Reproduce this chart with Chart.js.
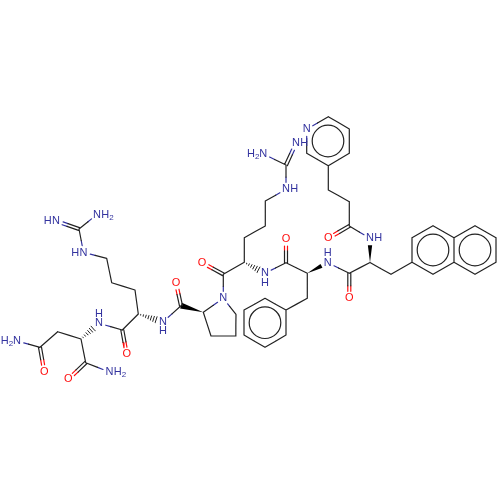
<!DOCTYPE html>
<html>
<head>
<meta charset="utf-8">
<script src="https://cdn.jsdelivr.net/npm/chart.js@4/dist/chart.umd.min.js"></script>
<style>
html, body { margin: 0; padding: 0; background: #fff; }
#wrap { width: 500px; height: 500px; }
</style>
</head>
<body>
<div id="wrap"><canvas id="mol" width="500" height="500"></canvas></div>
<script>
// atom positions
var atoms = [
    [97,214.5],[56,221],[79,229],[83.5,252.5],[106.7,258.3],[111.7,282.7],[135,290],[138.3,314],
    [99,323.3],[122.3,330],[126.7,354.3],[81,339],[57.7,331.7],[40,347.3],[44.3,371.7],[17,341],
    [85.7,362.7],[68.3,379.3],[109.5,372],[163,322],[181,305.7],[176,282.7],[203.3,312.3],[211,336],
    [235.7,336],[236,314.3],[223.3,298.3],[223.3,274.3],[202,262.7],[244.3,262.3],[244.3,237.7],[265.3,226],
    [265.3,201],[286,189.3],[286,165],[263.3,154],[296,143.3],[265,273.3],[286,262.7],[286,239],
    [307.3,273.3],[307.3,298.3],[286,310],[286,335],[265,347.3],[244,335],[244,310],[265,298.3],
    [327.7,262.7],[349.3,273.3],[349.3,298.3],[370,262.5],[370,238.3],[391,274.3],[412,262.3],[412,237.7],
    [433,225.7],[454,237.7],[454,262.3],[433,274.3],[475,225.7],[496,237.7],[496,262.3],[475,274.3],
    [349.3,226],[328.3,238.3],[349.3,201.7],[328.3,190],[328.3,165.7],[349.3,153.3],[349.3,129],[328.3,116.7],
    [306.7,129.3],[306.7,153.3]
];
var singleBonds = [
    [2,0],[2,3],[3,4],[4,5],[5,6],[6,7],[7,9],[9,8],[11,12],[12,13],[13,15],[11,16],[16,18],
    [19,20],[22,23],[23,24],[24,25],[25,26],[26,22],[26,27],[27,29],[29,30],[30,31],[31,32],[32,33],
    [33,34],[34,35],[37,38],[38,40],[40,41],[41,42],[42,43],[43,44],[44,45],[45,46],[46,47],[47,42],
    [48,49],[49,51],[51,53],[53,54],[54,55],[55,56],[56,57],[57,58],[58,59],[59,54],[57,60],[60,61],
    [61,62],[62,63],[63,58],[52,64],[64,66],[66,67],[67,68],[68,69],[69,70],[70,71],[71,72],[72,73],[73,68]
];
var doubleBonds = [[2,1],[9,10],[13,14],[16,17],[20,21],[27,28],[34,36],[38,39],[49,50],[64,65]];
var wedgeBonds = [[22,20],[40,48],[51,52]];
var hashBonds = [[11,8],[7,19],[29,37]];
var ringCentres = [[265,322.7],[433,250],[475,250],[328,141]];
var nitrogens = [0,1,3,8,15,18,19,26,33,35,36,37,48,52,72];
var oxygens = [10,14,17,21,28,39,50,65];
// [atom, text shape]
var atomLabels = [
    [0,'NH2'],[1,'HN'],[3,'HN'],[8,'NH^'],[15,'H2N'],[18,'NH2'],[19,'NHv'],[26,'N'],[33,'NH'],[35,'H2N'],
    [36,'NH'],[37,'NHv'],[48,'NH^'],[52,'NH'],[72,'N'],
    [10,'O'],[14,'O'],[17,'O'],[21,'O'],[28,'O'],[39,'O'],[50,'O'],[65,'O']
];

var carbonColor = '#222222', nitrogenColor = '#33339f', oxygenColor = '#ff0d0d';
var gap = 7, dblOffset = 1.5;

function colorOf(i) {
    if (nitrogens.indexOf(i) >= 0) return nitrogenColor;
    if (oxygens.indexOf(i) >= 0) return oxygenColor;
    return carbonColor;
}
function labelled(i) {
    return nitrogens.indexOf(i) >= 0 || oxygens.indexOf(i) >= 0;
}

var segs = {};
segs[carbonColor] = []; segs[nitrogenColor] = []; segs[oxygenColor] = [];

function addSeg(color, x1, y1, x2, y2) {
    segs[color].push({x: x1, y: y1}, {x: x2, y: y2}, {x: NaN, y: NaN});
}
function addBond(a, b, off) {
    var p = atoms[a], q = atoms[b];
    var dx = q[0] - p[0], dy = q[1] - p[1], len = Math.sqrt(dx * dx + dy * dy);
    var ux = dx / len, uy = dy / len, nx = -uy * off, ny = ux * off;
    var s = labelled(a) ? gap : 0, e = labelled(b) ? len - gap : len;
    var m = len / 2;
    var mx = p[0] + ux * m + nx, my = p[1] + uy * m + ny;
    addSeg(colorOf(a), p[0] + ux * s + nx, p[1] + uy * s + ny, mx, my);
    addSeg(colorOf(b), mx, my, p[0] + ux * e + nx, p[1] + uy * e + ny);
}
singleBonds.forEach(function (b) { addBond(b[0], b[1], 0); });
doubleBonds.forEach(function (b) {
    addBond(b[0], b[1], dblOffset);
    addBond(b[0], b[1], -dblOffset);
});

function lineSet(color, data, width) {
    return {
        data: data, showLine: true, spanGaps: false, borderColor: color,
        borderWidth: width, pointRadius: 0, fill: false, tension: 0, borderCapStyle: 'round'
    };
}
var datasets = [
    lineSet(carbonColor, segs[carbonColor], 1.2),
    lineSet(nitrogenColor, segs[nitrogenColor], 1.2),
    lineSet(oxygenColor, segs[oxygenColor], 1.2)
];

// solid wedges
wedgeBonds.forEach(function (b) {
    var p = atoms[b[0]], q = atoms[b[1]];
    var dx = q[0] - p[0], dy = q[1] - p[1], len = Math.sqrt(dx * dx + dy * dy);
    var ux = dx / len, uy = dy / len, e = labelled(b[1]) ? len - gap : len, w = 3 * e / len;
    var ex = p[0] + ux * e, ey = p[1] + uy * e;
    datasets.push({
        data: [{x: p[0], y: p[1]}, {x: ex - uy * w, y: ey + ux * w}, {x: ex + uy * w, y: ey - ux * w}],
        showLine: true, borderWidth: 0, pointRadius: 0, fill: 'shape', backgroundColor: '#000000', borderColor: '#000000'
    });
});

// hashed wedges
var hashData = [];
hashBonds.forEach(function (b) {
    var p = atoms[b[0]], q = atoms[b[1]];
    var dx = q[0] - p[0], dy = q[1] - p[1], len = Math.sqrt(dx * dx + dy * dy);
    var ux = dx / len, uy = dy / len, end = len - gap;
    for (var t = 2.5; t <= end; t += 2.7) {
        var w = 3.2 * t / end, cx = p[0] + ux * t, cy = p[1] + uy * t;
        hashData.push({x: cx - uy * w, y: cy + ux * w}, {x: cx + uy * w, y: cy - ux * w}, {x: NaN, y: NaN});
    }
});
datasets.push(lineSet('#222222', hashData, 1));

// aromatic inner circles
datasets.push({
    data: ringCentres.map(function (c) { return {x: c[0], y: c[1]}; }),
    showLine: false, pointStyle: 'circle', pointRadius: 15.8, pointHoverRadius: 15.8,
    pointBorderColor: carbonColor, pointBackgroundColor: 'rgba(0,0,0,0)', pointBorderWidth: 1.2
});

var labelPlugin = {
    id: 'atomLabels',
    afterDatasetsDraw: function (chart) {
        var ctx = chart.ctx, xs = chart.scales.x, ys = chart.scales.y;
        var font = '11px "Liberation Sans"', sub = '8px "Liberation Sans"';
        ctx.save();
        ctx.textAlign = 'center';
        ctx.textBaseline = 'middle';
        atomLabels.forEach(function (l) {
            var x = xs.getPixelForValue(atoms[l[0]][0]), y = ys.getPixelForValue(atoms[l[0]][1]);
            var kind = l[1];
            ctx.fillStyle = colorOf(l[0]);
            ctx.font = font;
            ctx.fillText(kind === 'O' ? 'O' : 'N', x, y);
            if (kind === 'NH' || kind === 'NH2') ctx.fillText('H', x + 8.3, y);
            if (kind === 'HN' || kind === 'H2N') ctx.fillText('H', x - (kind === 'HN' ? 8.3 : 12.3), y);
            if (kind === 'NH^') ctx.fillText('H', x, y - 9.3);
            if (kind === 'NHv') ctx.fillText('H', x, y + 9.3);
            if (kind === 'NH2' || kind === 'H2N') {
                ctx.font = sub;
                ctx.fillText('2', x + (kind === 'NH2' ? 14.5 : -6), y + 3);
            }
        });
        ctx.restore();
    }
};

new Chart(document.getElementById('mol').getContext('2d'), {
    type: 'scatter',
    data: {datasets: datasets},
    options: {
        responsive: false,
        animation: false,
        layout: {padding: 0, autoPadding: false},
        plugins: {legend: {display: false}, tooltip: {enabled: false}},
        scales: {
            x: {type: 'linear', display: false, min: 0, max: 500},
            y: {type: 'linear', display: false, min: 0, max: 500, reverse: true}
        }
    },
    plugins: [labelPlugin]
});
</script>
</body>
</html>
